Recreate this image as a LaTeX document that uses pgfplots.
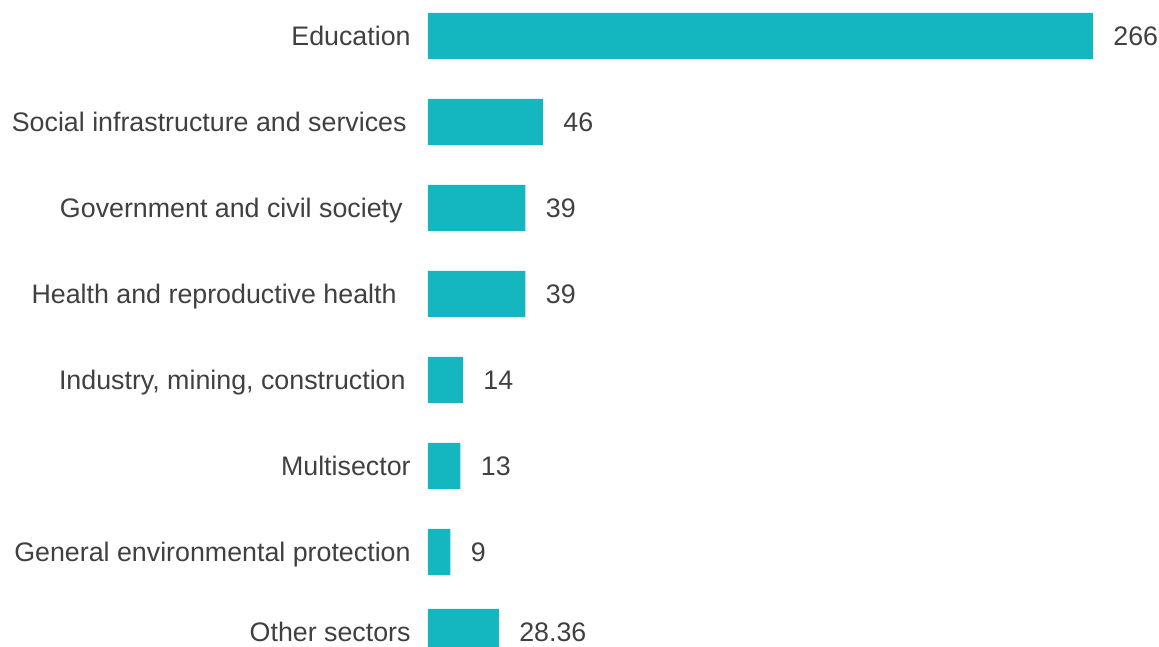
\documentclass[border=0pt]{standalone}
\usepackage{fontspec}
\setmainfont{Liberation Sans}
\usepackage{pgfplots}
\pgfplotsset{compat=1.18}
\usepackage{pgfplotstable}
\definecolor{barc}{HTML}{14B7C0}
\definecolor{txt}{HTML}{404040}

\pgfplotstableread{
y v lab
0 266 266
1 46 46
2 39 39
3 39 39
4 14 14
5 13 13
6 9 9
6.93 28.36 28.36
}\data

\begin{document}
\fontsize{13.4pt}{16pt}\selectfont
\begin{tikzpicture}
\begin{axis}[name=ax, scale only axis, width=365.5pt, height=323.5pt,
  xmin=0, xmax=292.4, ymin=-0.4186, ymax=7.105, y dir=reverse,
  axis line style={draw=none},
  xbar, bar width=23pt,
  xtick=\empty,
  ytick={0,1,2,3,4,5,6,6.93},
  yticklabels={Education\rule{0.5pt}{0pt},
    Social infrastructure and services\rule{2.5pt}{0pt},
    Government and civil society\rule{4.5pt}{0pt},
    Health and reproductive health\rule{7.5pt}{0pt},
    {Industry, mining, construction\rule{3pt}{0pt}},
    Multisector\rule{0.5pt}{0pt},
    General environmental protection\rule{0.5pt}{0pt},
    Other sectors\rule{0.5pt}{0pt}},
  ytick pos=left,
  major tick length=0pt,
  yticklabel style={anchor=base east, inner sep=0pt, xshift=-8pt, yshift=-4.7pt, text=txt, font=\fontsize{13.4pt}{16pt}\selectfont},
  nodes near coords,
  point meta=explicit symbolic,
  nodes near coords style={anchor=base west, inner sep=0pt, xshift=10pt, yshift=-4.7pt, text=txt, font=\fontsize{13.4pt}{16pt}\selectfont},
]
\addplot[fill=barc, draw=none] table[x=v, y=y, meta=lab] {\data};
\end{axis}
\pgfresetboundingbox
\path ([xshift=-214pt]ax.south west) rectangle (ax.north east);
\end{tikzpicture}
\end{document}
